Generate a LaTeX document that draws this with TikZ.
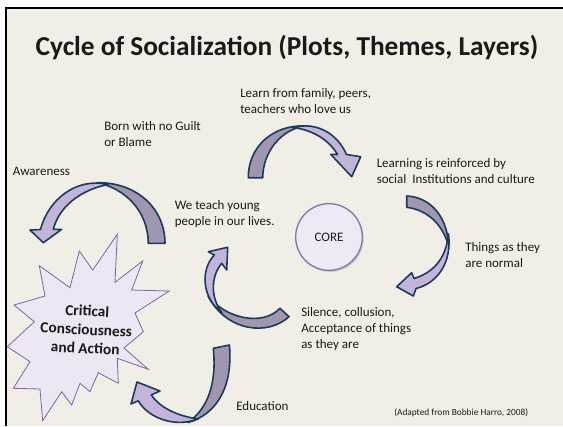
\documentclass[tikz,border=0pt]{standalone}
\usepackage{fontspec}
\usetikzlibrary{shadows}
\setmainfont{Carlito}
\definecolor{slidebg}{HTML}{F1EEE8}
\definecolor{arrowline}{HTML}{1E3A5A}
\definecolor{arrowdark}{HTML}{A096B0}
\definecolor{arrowlight}{HTML}{C3B5DA}
\definecolor{burstfill}{HTML}{ECE7F3}
\definecolor{burstline}{HTML}{7F63A0}
\definecolor{corefill}{HTML}{EEE9F5}
\definecolor{coreline}{HTML}{8D71AE}
\definecolor{inktext}{HTML}{1A1A1A}
\tikzset{
  lbl/.style={anchor=base west, inner sep=0pt, align=left, text=inktext,
    font=\fontsize{9.75}{12}\selectfont},
  bandback/.style={draw=arrowline, fill=arrowdark, line width=1.2pt, line join=round},
  bandfront/.style={draw=arrowline, fill=arrowlight, line width=1.2pt, line join=round}
}
\begin{document}
\begin{tikzpicture}[x=0.75pt,y=0.75pt,yscale=-1,xscale=1]
\useasboundingbox (0,0) rectangle (563,426);

%Shape: Slide
\fill [white] (0,0) rectangle (563,426);
\fill [slidebg] (6.2,8.3) rectangle (563,426);
\draw [line width=1.5pt] (6.2,426) -- (6.2,8.3) -- (563,8.3);

%Shape: Starburst
\draw [draw=burstline, fill=burstfill, line width=0.6pt, line join=miter] (117.3,234.3) -- (115,282.3) -- (142.7,261) -- (131.7,290) -- (169.3,291) -- (135,313) -- (143.3,331.7) -- (124,348) -- (148.3,369.3) -- (117.3,358.3) -- (118.3,383.3) -- (98.3,372.7) -- (90,391.7) -- (80,383.3) -- (71.7,405) -- (61.7,391.7) -- (42.7,420.7) -- (40,389) -- (13.3,388.3) -- (30,361.7) -- (7.3,346.7) -- (34.3,321.7) -- (14,305) -- (45,296) -- (39.3,265.7) -- (70,287.7) -- (79.3,251) -- (92.7,270) -- cycle ;

%Curved Arrow (family)
\draw [bandback] (248.3,177.7) .. controls (248,146) and (274,124.5) .. (305,126) .. controls (282,129) and (263,151) .. (262.7,177.7) -- cycle ;
\draw [bandfront] (293,127.5) .. controls (318,121) and (338,135) .. (346.5,154.5) -- (360.7,156.7) -- (351.7,176.7) -- (330.7,154.3) -- (337.5,154.5) .. controls (329,140) and (313,130) .. (293,127.5) -- cycle ;
%Curved Arrow (institutions)
\draw [bandback] (406.7,196) .. controls (431,197) and (448,218) .. (448.5,246) .. controls (443,225) and (428,210) .. (406.7,207.3) -- cycle ;
\draw [bandfront] (448.5,234) .. controls (452,262) and (438,283) .. (416,288.5) -- (413.3,296) -- (396.7,286.7) -- (411.7,272.7) -- (414,278.5) .. controls (432,273) and (446,260) .. (448.5,234) -- cycle ;
%Curved Arrow (silence)
\draw [bandback] (280,308.3) -- (289,316.7) .. controls (268,336) and (227,332) .. (208,296) .. controls (225,318) and (262,327) .. (280,308.3) -- cycle ;
\draw [bandfront] (222,313) .. controls (202,298) and (200,270) .. (214.3,255) -- (208.3,251.7) -- (227.7,247.3) -- (226.7,270) -- (221.7,263.3) .. controls (211,276) and (210,297) .. (222,313) -- cycle ;
%Curved Arrow (awareness)
\draw [bandback] (165,243.3) .. controls (165,208) and (136,182) .. (97,182.7) .. controls (124,188) and (148,210) .. (148.3,243.3) -- cycle ;
\draw [bandfront] (108,184.5) .. controls (76,177) and (48,200) .. (40.5,229.5) -- (30,230) -- (43.3,242.7) -- (61.7,229.3) -- (53.3,229.3) .. controls (59,207) and (80,190) .. (108,184.5) -- cycle ;
%Curved Arrow (education)
\draw [bandback] (213.3,348.3) -- (229.4,345) .. controls (233,385) and (218,414) .. (188,422.5) .. controls (207,409) and (217,385) .. (213.3,348.3) -- cycle ;
\draw [bandfront] (198,419) .. controls (175,428) and (148,418) .. (138.3,400.8) -- (131,404) -- (137,382) -- (160,391) -- (151.3,394.9) .. controls (160,408) and (178,416) .. (198,419) -- cycle ;

%Shape: Circle
\draw (329,237) node (core) [circle, draw=coreline, fill=corefill, line width=1pt, minimum size=50, inner sep=0pt, drop shadow={opacity=0.3, shadow xshift=1pt, shadow yshift=-1.2pt}, text=inktext, font=\fontsize{9.75}{12}\selectfont] {CORE};

% Text Node
\draw (287,55.5) node (title) [anchor=base, inner sep=0pt, text=inktext, font=\fontsize{20.5}{24}\selectfont\bfseries] {Cycle of Socialization (Plots, Themes, Layers)};
% Text Node
\draw (240,113.5) node (learn) [lbl] {Learn from family, peers,\\teachers who love us};
% Text Node
\draw (104,146.5) node (born) [lbl] {Born with no Guilt\\or Blame};
% Text Node
\draw (12.5,175.5) node (aware) [lbl] {Awareness};
% Text Node
\draw (376.5,183) node (reinforce) [lbl] {Learning is reinforced by\\social~ Institutions and culture};
% Text Node
\draw (174.5,225.5) node (teach) [lbl] {We teach young\\people in our lives.};
% Text Node
\draw (465,267) node (things) [lbl] {Things as they\\are normal};
% Text Node
\draw (301,348) node (silence) [lbl] {Silence, collusion,\\Acceptance of things\\as they are};
% Text Node
\draw (236,410) node (educ) [lbl] {Education};
% Text Node
\draw (394,415) node (source) [lbl, font=\fontsize{7}{8}\selectfont] {(Adapted from Bobbie Harro, 2008)};
% Text Node
\draw (85,353.5) node (critical) [anchor=base, inner sep=0pt, align=center, rotate=-3, text=inktext, font=\fontsize{11.5}{14}\selectfont\bfseries] {Critical\\Consciousness\\and Action};

\end{tikzpicture}
\end{document}
